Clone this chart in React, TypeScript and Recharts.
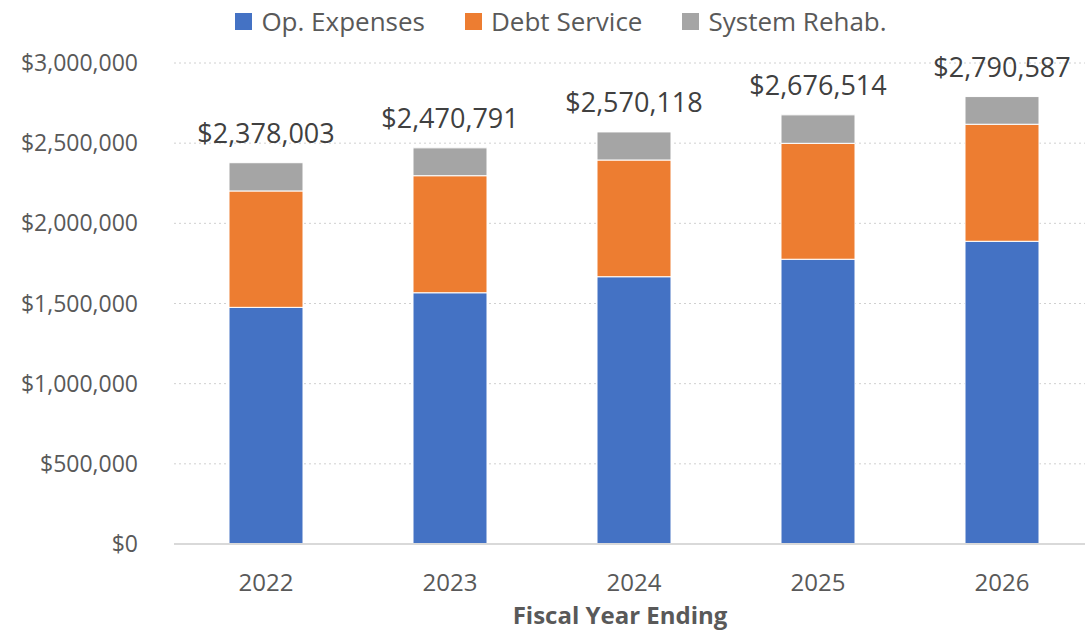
import { BarChart, Bar, XAxis, YAxis, CartesianGrid, LabelList } from 'recharts';

const YEARS = ['2022', '2023', '2024', '2025', '2026'];
const OP_EXPENSES = [1476000, 1567000, 1667000, 1776000, 1888000];
const DEBT_SERVICE = [726000, 730000, 728000, 723000, 730000];
const SYSTEM_REHAB = [176003, 173791, 175118, 177514, 172587];
const TOTALS = [2378003, 2470791, 2570118, 2676514, 2790587];
const Y_TICKS = [0, 500000, 1000000, 1500000, 2000000, 2500000, 3000000];

const SERIES = [
  { key: 'op', name: 'Op. Expenses', color: '#4472C4' },
  { key: 'debt', name: 'Debt Service', color: '#ED7D31' },
  { key: 'rehab', name: 'System Rehab.', color: '#A5A5A5' },
];

const FONT = '"Open Sans", sans-serif';

const data = YEARS.map((year, i) => ({
  year,
  op: OP_EXPENSES[i],
  debt: DEBT_SERVICE[i],
  rehab: SYSTEM_REHAB[i],
  total: TOTALS[i],
}));

const money = (v: number) => '$' + v.toLocaleString('en-US');

const TotalLabel = (props: any) => {
  const { x, y, width, index } = props;
  return (
    <text x={x + width / 2} y={y - 20} textAnchor="middle" fill="#404040" fontSize={27} fontFamily={FONT}>
      {money(TOTALS[index])}
    </text>
  );
};

export default function App() {
  return (
    <div style={{ position: 'absolute', left: 0, top: 0, width: 1085, height: 638, overflow: 'hidden', background: '#fff' }}>
      <BarChart width={1094} height={638} data={data} margin={{ top: 63, right: 0, bottom: 0, left: 0 }}>
        <CartesianGrid vertical={false} stroke="#d0d0d0" strokeDasharray="2 3" />
        <XAxis
          dataKey="year"
          height={94}
          tickSize={0}
          tickMargin={30}
          axisLine={{ stroke: '#d9d9d9', strokeWidth: 2 }}
          tick={{ fill: '#595959', fontSize: 24, fontFamily: FONT }}
        />
        <YAxis
          width={174}
          domain={[0, 3000000]}
          ticks={Y_TICKS}
          interval={0}
          tickSize={0}
          tickMargin={36}
          axisLine={false}
          tickFormatter={money}
          tick={{ fill: '#595959', fontSize: 23, fontFamily: FONT }}
        />
        {SERIES.map(s => (
          <Bar
            key={s.key}
            dataKey={s.key}
            name={s.name}
            stackId="a"
            fill={s.color}
            stroke="#ffffff"
            strokeWidth={1}
            barSize={74}
            isAnimationActive={false}
          >
            {s.key === 'rehab' && <LabelList dataKey="total" content={TotalLabel} />}
          </Bar>
        ))}
      </BarChart>
      <div style={{ position: 'absolute', left: 0, width: 1122, top: 3, display: 'flex', justifyContent: 'center', alignItems: 'center', fontFamily: FONT, fontSize: 26, color: '#595959' }}>
        {SERIES.map(s => (
          <div key={s.key} style={{ display: 'flex', alignItems: 'center', margin: '0 20px' }}>
            <div style={{ width: 17, height: 17, background: s.color, marginRight: 9 }} />
            <span>{s.name}</span>
          </div>
        ))}
      </div>
      <div style={{ position: 'absolute', left: 0, width: 1240, top: 598, textAlign: 'center', fontFamily: FONT, fontSize: 24, fontWeight: 700, color: '#595959' }}>
        Fiscal Year Ending
      </div>
    </div>
  );
}
